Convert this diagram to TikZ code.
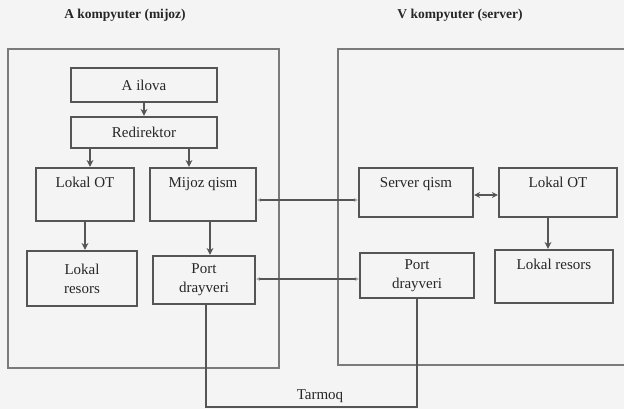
\documentclass[tikz,border=0pt]{standalone}
\usepackage{fontspec}
\setmainfont{Liberation Serif}
\usetikzlibrary{calc,arrows.meta,positioning}
\definecolor{scanpaper}{HTML}{F4F4F4}
\definecolor{inkgray}{HTML}{555555}
\definecolor{framegray}{HTML}{7A7A7A}

\begin{document}
\begin{tikzpicture}[x=1pt,y=-1pt,
  every node/.style={align=center,font=\fontsize{15}{19}\selectfont,text=black!85},
  compbox/.style={draw=framegray,line width=1.3pt,inner sep=0pt},
  unitbox/.style={draw=inkgray,line width=2.2pt,inner sep=0pt},
  toptext/.style={label={[anchor=north,yshift=-7pt]north:#1}},
  arr/.style={draw=inkgray,line width=1.2pt,-{Stealth[length=7pt,width=7pt]}},
  biarr/.style={draw=inkgray,line width=1.2pt,{Stealth[length=6pt,width=6pt]}-{Stealth[length=6pt,width=6pt]}},
  link/.style={draw=inkgray,line width=1.2pt,{Stealth[length=4pt,width=4pt,color=black!35]}-{Stealth[length=4pt,width=4pt,color=black!35]}},
  wire/.style={draw=inkgray,line width=1.2pt}]
\useasboundingbox[fill=scanpaper] (0,0) rectangle (624,409);
% titles
\node[font=\bfseries\fontsize{13.5}{16}\selectfont] (titleA) at (125,15) {A kompyuter (mijoz)};
\node[font=\bfseries\fontsize{13.5}{16}\selectfont] (titleB) at (460,15) {V kompyuter (server)};
% computers
\node[compbox,minimum width=271pt,minimum height=319pt] (compA) at (143.5,208.5) {};
\node[compbox,minimum width=302pt,minimum height=316pt] (compB) at (489,207) {};
% client side
\node[unitbox,minimum width=146pt,minimum height=34pt] (ilova) at (144,85) {A ilova};
\node[unitbox,minimum width=146pt,minimum height=31pt] (redir) at (144,132.5) {Redirektor};
\node[unitbox,minimum width=98pt,minimum height=53pt,toptext={Lokal OT}] (otA) at (85,194.5) {};
\node[unitbox,minimum width=106pt,minimum height=53pt,toptext={Mijoz qism}] (mijoz) at (203,194.5) {};
\node[unitbox,minimum width=110pt,minimum height=55pt] (resA) at (82,278.5) {Lokal\\resors};
\node[unitbox,minimum width=102pt,minimum height=48pt] (portA) at (204,280) {Port\\drayveri};
% server side
\node[unitbox,minimum width=114pt,minimum height=49pt,toptext={Server qism}] (serv) at (416,192.5) {};
\node[unitbox,minimum width=118pt,minimum height=49pt,toptext={Lokal OT}] (otB) at (558,192.5) {};
\node[unitbox,minimum width=118pt,minimum height=53pt,toptext={Lokal resors}] (resB) at (554,276.5) {};
\node[unitbox,minimum width=114pt,minimum height=45pt] (portB) at (417,275.5) {Port\\drayveri};
% network
\coordinate (net) at (0,407);
\node (tarmoq) at (320,396) {Tarmoq};
% arrows
\draw[arr] (ilova) -- (redir);
\draw[arr] ([xshift=-54pt]redir.south) -- ([xshift=-54pt]redir.south |- otA.north);
\draw[arr] ([xshift=45pt]redir.south) -- ([xshift=45pt]redir.south |- mijoz.north);
\draw[arr] (otA.south) -- (otA.south |- resA.north);
\draw[arr] ([xshift=7pt]mijoz.south) -- ([xshift=7pt]mijoz.south |- portA.north);
\draw[arr] ([xshift=-10pt]otB.south) -- ([xshift=-10pt]otB.south |- resB.north);
\draw[biarr] ([yshift=-2.5pt]serv.east) -- ([yshift=-2.5pt]serv.east -| otB.west);
\draw[link] ([yshift=-5.5pt]mijoz.east) -- ([yshift=-5.5pt]mijoz.east -| serv.west);
\draw[link] ([yshift=1pt]portA.east) -- ([yshift=1pt]portA.east -| portB.west);
\draw[wire] ([xshift=2pt]portA.south) -- ([xshift=2pt]portA.south |- net) -- (portB.south |- net) -- (portB.south);
\end{tikzpicture}
\end{document}
